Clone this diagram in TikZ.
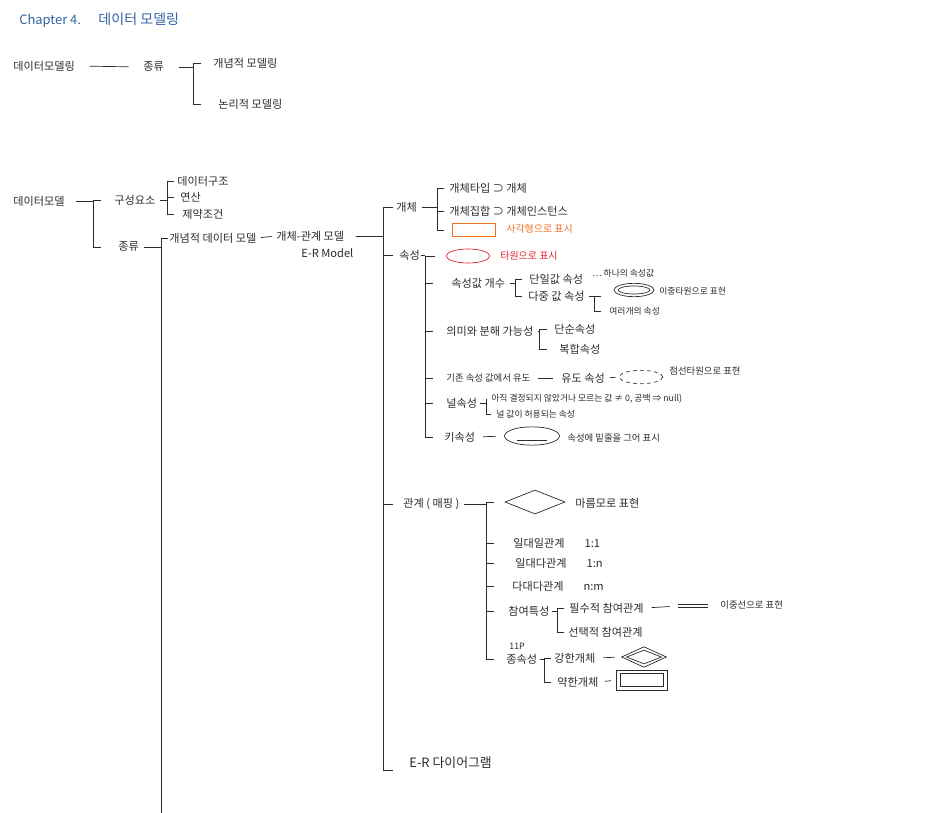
\documentclass[tikz,border=0pt]{standalone}
\usepackage{fontspec}
\setmainfont{Noto Sans CJK KR}
\usepackage{tikz}
\usetikzlibrary{positioning, shapes.geometric}
\definecolor{InkBlack}{HTML}{2B2B2B}
\definecolor{PenBlue}{HTML}{2F63A6}
\definecolor{PenOrange}{HTML}{F07022}
\definecolor{PenRed}{HTML}{E5262D}

\begin{document}
\begin{tikzpicture}[x=0.03cm, y=-0.03cm,
      txt/.style={anchor=west, inner sep=1pt, text=InkBlack, font=\fontsize{9.5}{11}\selectfont},
      note/.style={txt, font=\fontsize{8}{9}\selectfont},
      tiny/.style={txt, font=\fontsize{7.5}{8.5}\selectfont},
      big/.style={txt, font=\fontsize{11}{13}\selectfont},
      title/.style={anchor=west, inner sep=1pt, text=PenBlue, font=\fontsize{11}{13}\selectfont},
      ln/.style={draw=InkBlack, line width=0.6pt},
      shp/.style={draw=InkBlack, line width=0.6pt, inner sep=0pt}]
      \useasboundingbox (0,0) rectangle (950,813);

      % Title
      \node[title] (chap) at (18,21) {Chapter 4.};
      \node[title, font=\fontsize{12}{14}\selectfont] (chapname) at (97,19) {데이터 모델링};

      % Kinds of data modeling
      \node[txt] (dmA) at (12,66) {데이터모델링};
      \node[txt] (kindA) at (142,67) {종류};
      \node[txt] (conA) at (212,63) {개념적 모델링};
      \node[txt] (logA) at (217,104) {논리적 모델링};
      \coordinate (sA) at (193,0);
      \draw[ln, shorten <=4mm, shorten >=4mm] (dmA.east) -- (kindA.west);
      \draw[ln, shorten <=4mm] (kindA.east) -- (kindA.east -| sA);
      \draw[ln] (conA.west -| sA) ++(2.5mm,0) -- ++(-2.5mm,0) -- (logA.west -| sA) -- ++(2.5mm,0);

      % Data model
      \node[txt] (dmB) at (12,201) {데이터모델};
      \node[txt] (partB) at (113,200) {구성요소};
      \node[txt] (kindB) at (117,247) {종류};
      \coordinate (sB) at (93,0);
      \draw[ln, shorten <=3mm] (dmB.east) -- (dmB.east -| sB);
      \draw[ln] (partB.west -| sB) ++(2.5mm,0) -- ++(-2.5mm,0) -- (kindB.west -| sB) -- ++(2.5mm,0);

      % Components
      \node[txt] (dstruct) at (176,181) {데이터구조};
      \node[txt] (oper) at (179,197) {연산};
      \node[txt] (constr) at (181,214) {제약조건};
      \coordinate (sC) at (167,0);
      \draw[ln, shorten <=1mm] (partB.east) -- (partB.east -| sC);
      \draw[ln] (dstruct.west -| sC) ++(2mm,0) -- ++(-2mm,0) -- (constr.west -| sC) -- ++(2mm,0);
      \draw[ln] (oper.west -| sC) -- ++(2mm,0);

      % Kinds -> conceptual data model
      \node[txt] (cdm) at (168,238) {개념적 데이터 모델};
      \node[txt] (erm) at (275,236) {개체-관계 모델};
      \node[txt] (ermEn) at (300,253) {E-R Model};
      \coordinate (sD) at (161,813);
      \draw[ln, shorten <=1mm] (kindB.east) -- (kindB.east -| sD);
      \draw[ln] (cdm.west) -- (cdm.west -| sD) -- (sD);
      \draw[ln, shorten <=1mm, shorten >=1mm] (cdm.east) -- (erm.west);

      % E-R model branches
      \node[txt] (ent) at (395,207) {개체};
      \node[txt] (attr) at (398,255) {속성};
      \node[txt] (rel) at (402,504) {관계 ( 매핑 )};
      \node[big] (erd) at (408,763) {E-R 다이어그램};
      \coordinate (sE) at (383,0);
      \draw[ln, shorten <=3mm] (erm.east) -- (erm.east -| sE);
      \draw[ln] (ent.west -| sE) ++(3mm,0) -- ++(-3mm,0) -- (erd.south west -| sE) -- ++(3mm,0);
      \draw[ln] (attr.west -| sE) -- ++(3mm,0);
      \draw[ln] (rel.west -| sE) -- ++(3mm,0);

      % Entity
      \node[txt] (etype) at (448,188) {개체타입 ⊃ 개체};
      \node[txt] (eset) at (448,211) {개체집합 ⊃ 개체인스턴스};
      \node[shp, draw=PenOrange, minimum width=1.3cm, minimum height=0.4cm] (eshape) at (474,230) {};
      \node[txt, text=PenOrange, font=\fontsize{8.5}{10}\selectfont] (eshapeNote) at (505,229) {사각형으로 표시};
      \coordinate (sF) at (437,0);
      \draw[ln, shorten <=1mm] (ent.east) -- (ent.east -| sF);
      \draw[ln] (etype.west -| sF) ++(2mm,0) -- ++(-2mm,0) -- (eshape.west -| sF) -- ++(2mm,0);
      \draw[ln] (eset.west -| sF) -- ++(2mm,0);

      % Attribute
      \node[shp, draw=PenRed, ellipse, minimum width=1.3cm, minimum height=0.42cm] (attrov) at (468,256) {};
      \node[txt, text=PenRed, font=\fontsize{8.5}{10}\selectfont] (attrovNote) at (499,256) {타원으로 표시};
      \node[txt] (vcount) at (450,283) {속성값 개수};
      \node[txt] (decomp) at (445,331) {의미와 분해 가능성};
      \node[txt, font=\fontsize{8}{9}\selectfont] (derive) at (445,378) {기존 속성 값에서 유도};
      \node[txt] (nullA) at (445,403) {널속성};
      \node[txt] (keyA) at (443,437) {키속성};
      \coordinate (sG) at (425,0);
      \draw[ln] (attr.east) -- (attr.east -| sG);
      \draw[ln] (attrov.west -| sG) ++(3mm,0) -- ++(-3mm,0) -- (keyA.west -| sG) -- ++(2.5mm,0);
      \draw[ln] (vcount.west -| sG) -- ++(2.5mm,0);
      \draw[ln] (decomp.west -| sG) -- ++(2.5mm,0);
      \draw[ln] (derive.west -| sG) -- ++(2.5mm,0);
      \draw[ln] (nullA.west -| sG) -- ++(2.5mm,0);

      % Number of values
      \node[txt] (single) at (528,279) {단일값 속성};
      \node[tiny] (singleNote) at (591,273) {… 하나의 속성값};
      \node[txt] (multi) at (527,296) {다중 값 속성};
      \coordinate (sH) at (515,0);
      \draw[ln, shorten <=1mm] (vcount.east) -- (vcount.east -| sH);
      \draw[ln] (single.west -| sH) ++(2mm,0) -- ++(-2mm,0) -- (multi.west -| sH) -- ++(2mm,0);

      % Multi-valued
      \node[shp, ellipse, minimum width=1.2cm, minimum height=0.4cm] (multiov) at (634,290) {};
      \node[shp, ellipse, minimum width=0.95cm, minimum height=0.24cm] (multiovIn) at (multiov) {};
      \node[tiny] (multiovNote) at (658,291) {이중타원으로 표현};
      \node[tiny] (multiNote) at (608,311) {여러개의 속성};
      \coordinate (sI) at (594,0);
      \draw[ln, shorten <=1mm] (multi.east) -- (multi.east -| sI);
      \draw[ln] (multi.east -| sI) ++(2mm,0) -- ++(-2mm,0) -- (multiNote.west -| sI) -- ++(2mm,0);

      % Meaning and decomposition
      \node[txt] (simple) at (553,329) {단순속성};
      \node[txt] (compound) at (558,349) {복합속성};
      \coordinate (sJ) at (539,0);
      \draw[ln, shorten <=1mm] (decomp.east) -- (decomp.east -| sJ);
      \draw[ln] (simple.west -| sJ) ++(2.5mm,0) -- ++(-2.5mm,0) -- (compound.west -| sJ) -- ++(2.5mm,0);

      % Derived
      \node[txt] (derived) at (560,378) {유도 속성};
      \node[shp, ellipse, dashed, minimum width=1.3cm, minimum height=0.4cm] (derivov) at (641,377) {};
      \node[note] (derivovNote) at (668,371) {점선타원으로 표현};
      \draw[ln, shorten <=2mm, shorten >=2mm] (derive.east) -- (derived.west);
      \draw[ln, shorten <=1mm, shorten >=1mm] (derived.east) -- (derivov.west);

      % Null
      \node[tiny] (nullWhy) at (490,399) {아직 결정되지 않았거나 모르는 값 ≠ 0, 공백 ⇒ null)};
      \node[tiny] (nullOk) at (495,414) {널 값이 허용되는 속성};
      \coordinate (sK) at (486,0);
      \draw[ln, shorten <=0.5mm] (nullA.east) -- (nullA.east -| sK);
      \draw[ln] (nullWhy.west -| sK) -- (nullOk.west -| sK) -- ++(1.5mm,0);

      % Key
      \node[shp, ellipse, minimum width=1.65cm, minimum height=0.55cm] (keyov) at (532,436) {};
      \draw[ln] ([xshift=-4.5mm,yshift=-1.2mm]keyov.center) -- ([xshift=4.5mm,yshift=-1.2mm]keyov.center);
      \node[note] (keyovNote) at (566,438) {속성에 밑줄을 그어 표시};
      \draw[ln, shorten <=2mm, shorten >=2.5mm] (keyA.east) -- (keyov.west);

      % Relationship
      \node[shp, diamond, minimum width=1.8cm, minimum height=0.72cm] (reldia) at (535,502) {};
      \node[txt] (reldiaNote) at (574,503) {마름모로 표현};
      \node[txt] (oneone) at (512,543) {일대일관계\hspace{6mm}1:1};
      \node[txt] (onemany) at (514,563) {일대다관계\hspace{6mm}1:n};
      \node[txt] (manymany) at (511,586) {다대다관계\hspace{6mm}n:m};
      \node[txt] (partic) at (507,611) {참여특성};
      \node[tiny] (dependTag) at (508,646) {11P};
      \node[txt] (depend) at (505,659) {종속성};
      \coordinate (sL) at (486,0);
      \draw[ln, shorten <=1mm] (rel.east) -- (rel.east -| sL);
      \draw[ln] (reldia.west -| sL) ++(2.5mm,0) -- ++(-2.5mm,0) -- (depend.west -| sL) -- ++(2.5mm,0);
      \draw[ln] (oneone.west -| sL) -- ++(2.5mm,0);
      \draw[ln] (onemany.west -| sL) -- ++(2.5mm,0);
      \draw[ln] (manymany.west -| sL) -- ++(2.5mm,0);
      \draw[ln] (partic.west -| sL) -- ++(2.5mm,0);

      % Participation
      \node[txt] (mandatory) at (568,608) {필수적 참여관계};
      \node[txt] (optional) at (567,632) {선택적 참여관계};
      \coordinate (dlA) at (678,606);
      \coordinate (dlB) at (708,606);
      \node[note] (dlNote) at (719,605) {이중선으로 표현};
      \coordinate (sM) at (557,0);
      \draw[ln, shorten <=0.5mm] (partic.east) -- (partic.east -| sM);
      \draw[ln] (mandatory.west -| sM) ++(2mm,0) -- ++(-2mm,0) -- (optional.west -| sM) -- ++(2mm,0);
      \draw[ln, shorten <=2mm, shorten >=2.5mm] (mandatory.east) -- (dlA);
      \draw[ln] ([yshift=1.2pt]dlA) -- ([yshift=1.2pt]dlB);
      \draw[ln] ([yshift=-1.2pt]dlA) -- ([yshift=-1.2pt]dlB);

      % Dependency
      \node[txt] (strong) at (553,658) {강한개체};
      \node[txt] (weak) at (556,682) {약한개체};
      \node[shp, diamond, minimum width=1.35cm, minimum height=0.62cm] (strongdia) at (644,657) {};
      \node[shp, diamond, minimum width=1.05cm, minimum height=0.42cm] (strongdiaIn) at (strongdia) {};
      \node[shp, minimum width=1.55cm, minimum height=0.6cm] (weakrect) at (642,680) {};
      \node[shp, minimum width=1.3cm, minimum height=0.4cm] (weakrectIn) at (weakrect) {};
      \coordinate (sN) at (544,0);
      \draw[ln, shorten <=0.5mm] (depend.east) -- (depend.east -| sN);
      \draw[ln] (strong.west -| sN) ++(2mm,0) -- ++(-2mm,0) -- (weak.west -| sN) -- ++(2mm,0);
      \draw[ln, shorten <=2mm, shorten >=2mm] (strong.east) -- (strongdia.west);
      \draw[ln, shorten <=1.5mm, shorten >=1.5mm] (weak.east) -- (weakrect.west);
\end{tikzpicture}
\end{document}
